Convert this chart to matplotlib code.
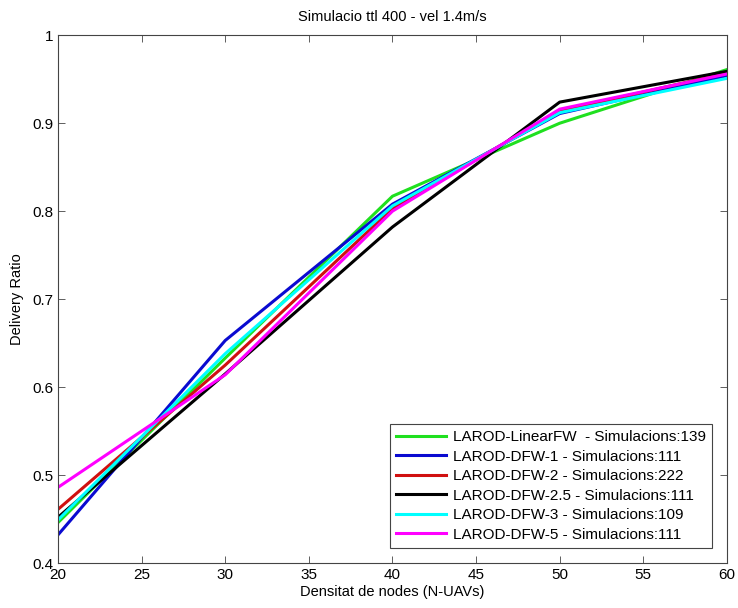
import matplotlib
matplotlib.use("Agg")
import matplotlib.pyplot as plt

plt.rcParams['font.family'] = ['Liberation Sans', 'DejaVu Sans']

densitat = [20, 30, 40, 50, 60]
linear_fw = [0.446, 0.633, 0.817, 0.900, 0.961]
dfw_1 = [0.432, 0.653, 0.808, 0.911, 0.954]
dfw_2 = [0.461, 0.625, 0.803, 0.914, 0.957]
dfw_25 = [0.452, 0.615, 0.782, 0.924, 0.959]
dfw_3 = [0.449, 0.638, 0.806, 0.912, 0.951]
dfw_5 = [0.486, 0.614, 0.800, 0.916, 0.956]

etiquetes = ['LAROD-LinearFW  - Simulacions:139',
             'LAROD-DFW-1 - Simulacions:111',
             'LAROD-DFW-2 - Simulacions:222',
             'LAROD-DFW-2.5 - Simulacions:111',
             'LAROD-DFW-3 - Simulacions:109',
             'LAROD-DFW-5 - Simulacions:111']
colors = ['#1fe01f', '#0a0ad0', '#d01010', '#000000', '#00ffff', '#ff00ff']

fig = plt.figure(figsize=(7.38, 6.08), dpi=100)
ax = fig.add_axes([0.0786, 0.074, 0.9064, 0.868])

series = [linear_fw, dfw_1, dfw_2, dfw_25, dfw_3, dfw_5]
for vals, col, lab in zip(series, colors, etiquetes):
    ax.plot(densitat, vals, color=col, lw=2.2, label=lab)

ax.set_xlim(20, 60)
ax.set_ylim(0.4, 1.0)
ax.set_xticks(range(20, 61, 5))
ax.set_yticks([0.4, 0.5, 0.6, 0.7, 0.8, 0.9, 1.0])
ax.set_yticklabels(['0.4', '0.5', '0.6', '0.7', '0.8', '0.9', '1'])
ax.tick_params(direction='in', top=True, right=True, labelsize=11,
               length=5, width=0.6, colors='#444444', labelcolor='black')
for sp in ax.spines.values():
    sp.set_color('#444444')
    sp.set_linewidth(0.8)

ax.set_title('Simulacio ttl 400 - vel 1.4m/s', fontsize=10.5, pad=10)
ax.set_xlabel('Densitat de nodes (N-UAVs)', fontsize=10.5, labelpad=2)
ax.set_ylabel('Delivery Ratio', fontsize=10.5, labelpad=6)

leg = ax.legend(loc='lower right', fontsize=11, handlelength=3.3,
                labelspacing=0.36, borderaxespad=1.0, fancybox=False,
                framealpha=1, handletextpad=0.4, borderpad=0.4)
leg.get_frame().set_edgecolor('#444444')
leg.get_frame().set_linewidth(0.8)

fig.savefig('out.png', dpi=100)
